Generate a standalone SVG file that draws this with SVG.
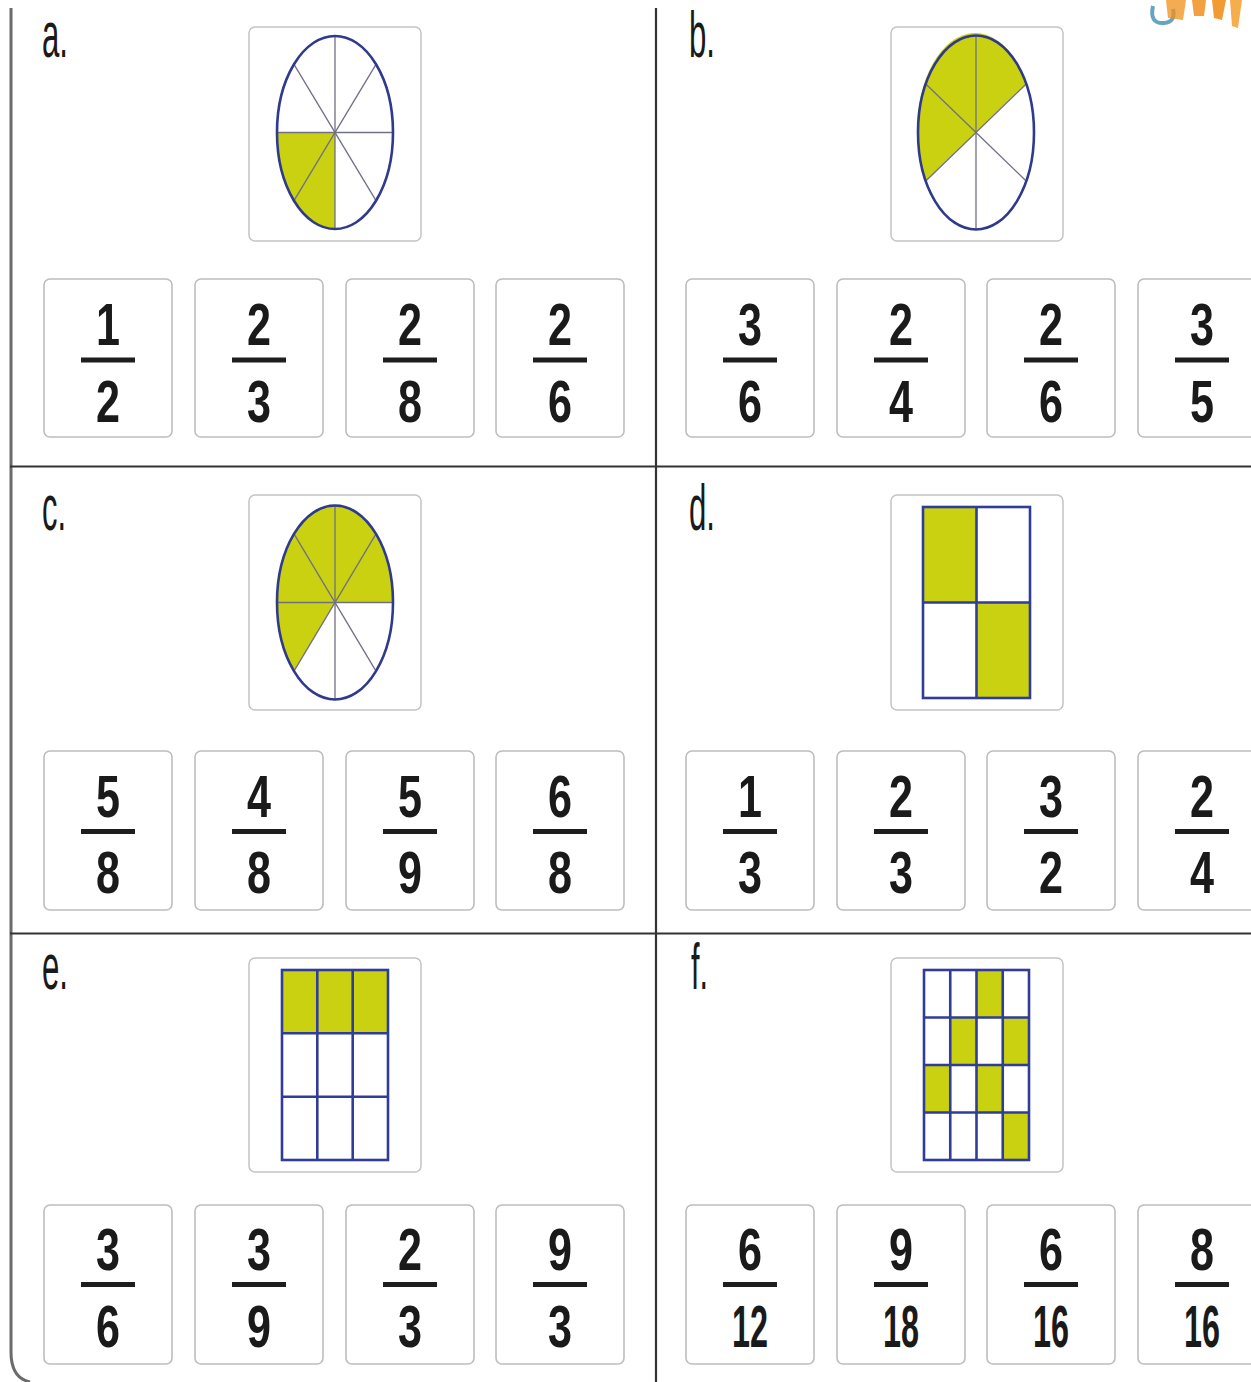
<svg xmlns="http://www.w3.org/2000/svg" width="1251" height="1382" viewBox="0 0 1251 1382">
<style>
.frame{fill:none;stroke:#333;stroke-width:2.2}
.lborder{fill:none;stroke:#6b6b6b;stroke-width:3}
.pic{fill:#fff;stroke:#c4c4c4;stroke-width:1.5}
.opt{fill:#fff;stroke:#bdbdbd;stroke-width:1.6}
.num{font-family:"Liberation Sans",Arial,sans-serif;font-weight:bold;font-size:60px;fill:#1a1a1a;text-anchor:middle}
.bar{fill:#1e1e1e}
.lbl{font-family:"Liberation Sans",Arial,sans-serif;font-size:64px;fill:#1a1a1a}
.shade{fill:#c9d111}
.ell{fill:none;stroke:#2f3a8c;stroke-width:2.6}
.spoke{stroke:#707085;stroke-width:1.3}
.grid{fill:none;stroke:#2f3d99;stroke-width:2.6}
</style>

<g id="frame">
  <path class="lborder" d="M11,8 V1352 Q11,1378 30,1382"/>
  <line class="frame" x1="656" y1="8" x2="656" y2="1382"/>
  <line class="frame" x1="10" y1="466.5" x2="1251" y2="466.5"/>
  <line class="frame" x1="10" y1="933.5" x2="1251" y2="933.5"/>
</g>

<g id="logo">
  <path d="M1153,6 Q1149,24 1164,23 Q1176,22 1173,9" fill="none" stroke="#3d8fb2" stroke-width="4" opacity="0.8"/>
  <path d="M1166,0 L1186,0 L1183,20 L1168,18 Z" fill="#f0901a" opacity="0.75"/>
  <path d="M1192,0 L1206,0 L1204,16 L1194,16 Z" fill="#f08a10" opacity="0.8"/>
  <path d="M1212,0 L1226,0 L1222,20 L1214,18 Z" fill="#f08a10" opacity="0.85"/>
  <path d="M1230,0 L1242,0 L1238,28 L1232,26 Z" fill="#f39a1e" opacity="0.8"/>
</g>

<!-- Panel a -->
<g id="panel-a">
  <text class="lbl" x="42" y="57" textLength="26" lengthAdjust="spacingAndGlyphs">a.</text>
  <g id="pic-a">
    <rect class="pic" x="249" y="27" width="172" height="214" rx="6"/>
    <path class="shade" d="M335,132.5 L277,132.5 A58 96.5 0 0 0 335,229 Z"/>
    <line class="spoke" x1="335" y1="36" x2="335" y2="229"/>
    <line class="spoke" x1="277" y1="132.5" x2="393" y2="132.5"/>
    <line class="spoke" x1="294" y1="64.3" x2="376" y2="200.7"/>
    <line class="spoke" x1="376" y1="64.3" x2="294" y2="200.7"/>
    <ellipse class="ell" cx="335" cy="132.5" rx="58" ry="96.5"/>
  </g>
  <g id="a-1" transform="translate(44,279)"><rect class="opt" width="128" height="158" rx="6"/><text class="num" x="64" y="66" textLength="24" lengthAdjust="spacingAndGlyphs">1</text><rect class="bar" x="37" y="78.5" width="54" height="5"/><text class="num" x="64" y="143" textLength="24" lengthAdjust="spacingAndGlyphs">2</text></g>
  <g id="a-2" transform="translate(195,279)"><rect class="opt" width="128" height="158" rx="6"/><text class="num" x="64" y="66" textLength="24" lengthAdjust="spacingAndGlyphs">2</text><rect class="bar" x="37" y="78.5" width="54" height="5"/><text class="num" x="64" y="143" textLength="24" lengthAdjust="spacingAndGlyphs">3</text></g>
  <g id="a-3" transform="translate(346,279)"><rect class="opt" width="128" height="158" rx="6"/><text class="num" x="64" y="66" textLength="24" lengthAdjust="spacingAndGlyphs">2</text><rect class="bar" x="37" y="78.5" width="54" height="5"/><text class="num" x="64" y="143" textLength="24" lengthAdjust="spacingAndGlyphs">8</text></g>
  <g id="a-4" transform="translate(496,279)"><rect class="opt" width="128" height="158" rx="6"/><text class="num" x="64" y="66" textLength="24" lengthAdjust="spacingAndGlyphs">2</text><rect class="bar" x="37" y="78.5" width="54" height="5"/><text class="num" x="64" y="143" textLength="24" lengthAdjust="spacingAndGlyphs">6</text></g>
</g>

<!-- Panel b -->
<g id="panel-b">
  <text class="lbl" x="689" y="57" textLength="26" lengthAdjust="spacingAndGlyphs">b.</text>
  <g id="pic-b">
    <rect class="pic" x="891" y="27" width="172" height="214" rx="6"/>
    <path class="shade" d="M1026.2,84 A58 97 0 1 0 925.8,181 Z"/>
    <line class="spoke" x1="976" y1="35.5" x2="976" y2="229.5"/>
    <line class="spoke" x1="1026.2" y1="84" x2="925.8" y2="181"/>
    <line class="spoke" x1="976" y1="132.5" x2="925.8" y2="84"/>
    <line class="spoke" x1="976" y1="132.5" x2="1026.2" y2="181"/>
    <ellipse class="ell" cx="976" cy="132.5" rx="58" ry="97"/>
  </g>
  <g id="b-1" transform="translate(686,279)"><rect class="opt" width="128" height="158" rx="6"/><text class="num" x="64" y="66" textLength="24" lengthAdjust="spacingAndGlyphs">3</text><rect class="bar" x="37" y="78.5" width="54" height="5"/><text class="num" x="64" y="143" textLength="24" lengthAdjust="spacingAndGlyphs">6</text></g>
  <g id="b-2" transform="translate(837,279)"><rect class="opt" width="128" height="158" rx="6"/><text class="num" x="64" y="66" textLength="24" lengthAdjust="spacingAndGlyphs">2</text><rect class="bar" x="37" y="78.5" width="54" height="5"/><text class="num" x="64" y="143" textLength="24" lengthAdjust="spacingAndGlyphs">4</text></g>
  <g id="b-3" transform="translate(987,279)"><rect class="opt" width="128" height="158" rx="6"/><text class="num" x="64" y="66" textLength="24" lengthAdjust="spacingAndGlyphs">2</text><rect class="bar" x="37" y="78.5" width="54" height="5"/><text class="num" x="64" y="143" textLength="24" lengthAdjust="spacingAndGlyphs">6</text></g>
  <g id="b-4" transform="translate(1138,279)"><rect class="opt" width="128" height="158" rx="6"/><text class="num" x="64" y="66" textLength="24" lengthAdjust="spacingAndGlyphs">3</text><rect class="bar" x="37" y="78.5" width="54" height="5"/><text class="num" x="64" y="143" textLength="24" lengthAdjust="spacingAndGlyphs">5</text></g>
</g>

<!-- Panel c -->
<g id="panel-c">
  <text class="lbl" x="42" y="530" textLength="24" lengthAdjust="spacingAndGlyphs">c.</text>
  <g id="pic-c">
    <rect class="pic" x="249" y="495" width="172" height="215" rx="6"/>
    <path class="shade" d="M335,602.5 L294,671.1 A58 97 0 1 1 393,602.5 Z"/>
    <line class="spoke" x1="335" y1="505.5" x2="335" y2="699.5"/>
    <line class="spoke" x1="277" y1="602.5" x2="393" y2="602.5"/>
    <line class="spoke" x1="294" y1="533.9" x2="376" y2="671.1"/>
    <line class="spoke" x1="376" y1="533.9" x2="294" y2="671.1"/>
    <ellipse class="ell" cx="335" cy="602.5" rx="58" ry="97"/>
  </g>
  <g id="c-1" transform="translate(44,751)"><rect class="opt" width="128" height="159" rx="6"/><text class="num" x="64" y="66" textLength="24" lengthAdjust="spacingAndGlyphs">5</text><rect class="bar" x="37" y="78" width="54" height="5"/><text class="num" x="64" y="142" textLength="24" lengthAdjust="spacingAndGlyphs">8</text></g>
  <g id="c-2" transform="translate(195,751)"><rect class="opt" width="128" height="159" rx="6"/><text class="num" x="64" y="66" textLength="24" lengthAdjust="spacingAndGlyphs">4</text><rect class="bar" x="37" y="78" width="54" height="5"/><text class="num" x="64" y="142" textLength="24" lengthAdjust="spacingAndGlyphs">8</text></g>
  <g id="c-3" transform="translate(346,751)"><rect class="opt" width="128" height="159" rx="6"/><text class="num" x="64" y="66" textLength="24" lengthAdjust="spacingAndGlyphs">5</text><rect class="bar" x="37" y="78" width="54" height="5"/><text class="num" x="64" y="142" textLength="24" lengthAdjust="spacingAndGlyphs">9</text></g>
  <g id="c-4" transform="translate(496,751)"><rect class="opt" width="128" height="159" rx="6"/><text class="num" x="64" y="66" textLength="24" lengthAdjust="spacingAndGlyphs">6</text><rect class="bar" x="37" y="78" width="54" height="5"/><text class="num" x="64" y="142" textLength="24" lengthAdjust="spacingAndGlyphs">8</text></g>
</g>

<!-- Panel d -->
<g id="panel-d">
  <text class="lbl" x="689" y="530" textLength="26" lengthAdjust="spacingAndGlyphs">d.</text>
  <g id="pic-d">
    <rect class="pic" x="891" y="495" width="172" height="215" rx="6"/>
    <rect class="shade" x="923" y="507" width="53.5" height="95.5"/>
    <rect class="shade" x="976.5" y="602.5" width="53.5" height="95.5"/>
    <rect class="grid" x="923" y="507" width="107" height="191"/>
    <line class="grid" x1="976.5" y1="507" x2="976.5" y2="698"/>
    <line class="grid" x1="923" y1="602.5" x2="1030" y2="602.5"/>
  </g>
  <g id="d-1" transform="translate(686,751)"><rect class="opt" width="128" height="159" rx="6"/><text class="num" x="64" y="66" textLength="24" lengthAdjust="spacingAndGlyphs">1</text><rect class="bar" x="37" y="78" width="54" height="5"/><text class="num" x="64" y="142" textLength="24" lengthAdjust="spacingAndGlyphs">3</text></g>
  <g id="d-2" transform="translate(837,751)"><rect class="opt" width="128" height="159" rx="6"/><text class="num" x="64" y="66" textLength="24" lengthAdjust="spacingAndGlyphs">2</text><rect class="bar" x="37" y="78" width="54" height="5"/><text class="num" x="64" y="142" textLength="24" lengthAdjust="spacingAndGlyphs">3</text></g>
  <g id="d-3" transform="translate(987,751)"><rect class="opt" width="128" height="159" rx="6"/><text class="num" x="64" y="66" textLength="24" lengthAdjust="spacingAndGlyphs">3</text><rect class="bar" x="37" y="78" width="54" height="5"/><text class="num" x="64" y="142" textLength="24" lengthAdjust="spacingAndGlyphs">2</text></g>
  <g id="d-4" transform="translate(1138,751)"><rect class="opt" width="128" height="159" rx="6"/><text class="num" x="64" y="66" textLength="24" lengthAdjust="spacingAndGlyphs">2</text><rect class="bar" x="37" y="78" width="54" height="5"/><text class="num" x="64" y="142" textLength="24" lengthAdjust="spacingAndGlyphs">4</text></g>
</g>

<!-- Panel e -->
<g id="panel-e">
  <text class="lbl" x="42" y="989" textLength="26" lengthAdjust="spacingAndGlyphs">e.</text>
  <g id="pic-e">
    <rect class="pic" x="249" y="958" width="172" height="214" rx="6"/>
    <rect class="shade" x="282" y="970" width="106" height="63.3"/>
    <rect class="grid" x="282" y="970" width="106" height="190"/>
    <line class="grid" x1="317.3" y1="970" x2="317.3" y2="1160"/>
    <line class="grid" x1="352.7" y1="970" x2="352.7" y2="1160"/>
    <line class="grid" x1="282" y1="1033.3" x2="388" y2="1033.3"/>
    <line class="grid" x1="282" y1="1096.7" x2="388" y2="1096.7"/>
  </g>
  <g id="e-1" transform="translate(44,1205)"><rect class="opt" width="128" height="159" rx="6"/><text class="num" x="64" y="65" textLength="24" lengthAdjust="spacingAndGlyphs">3</text><rect class="bar" x="37" y="77" width="54" height="5"/><text class="num" x="64" y="142" textLength="24" lengthAdjust="spacingAndGlyphs">6</text></g>
  <g id="e-2" transform="translate(195,1205)"><rect class="opt" width="128" height="159" rx="6"/><text class="num" x="64" y="65" textLength="24" lengthAdjust="spacingAndGlyphs">3</text><rect class="bar" x="37" y="77" width="54" height="5"/><text class="num" x="64" y="142" textLength="24" lengthAdjust="spacingAndGlyphs">9</text></g>
  <g id="e-3" transform="translate(346,1205)"><rect class="opt" width="128" height="159" rx="6"/><text class="num" x="64" y="65" textLength="24" lengthAdjust="spacingAndGlyphs">2</text><rect class="bar" x="37" y="77" width="54" height="5"/><text class="num" x="64" y="142" textLength="24" lengthAdjust="spacingAndGlyphs">3</text></g>
  <g id="e-4" transform="translate(496,1205)"><rect class="opt" width="128" height="159" rx="6"/><text class="num" x="64" y="65" textLength="24" lengthAdjust="spacingAndGlyphs">9</text><rect class="bar" x="37" y="77" width="54" height="5"/><text class="num" x="64" y="142" textLength="24" lengthAdjust="spacingAndGlyphs">3</text></g>
</g>

<!-- Panel f -->
<g id="panel-f">
  <text class="lbl" x="691" y="989" textLength="17" lengthAdjust="spacingAndGlyphs">f.</text>
  <g id="pic-f">
    <rect class="pic" x="891" y="958" width="172" height="214" rx="6"/>
    <rect class="shade" x="976.5" y="970" width="26.25" height="47.5"/>
    <rect class="shade" x="950.25" y="1017.5" width="26.25" height="47.5"/>
    <rect class="shade" x="1002.75" y="1017.5" width="26.25" height="47.5"/>
    <rect class="shade" x="924" y="1065" width="26.25" height="47.5"/>
    <rect class="shade" x="976.5" y="1065" width="26.25" height="47.5"/>
    <rect class="shade" x="1002.75" y="1112.5" width="26.25" height="47.5"/>
    <rect class="grid" x="924" y="970" width="105" height="190"/>
    <line class="grid" x1="950.25" y1="970" x2="950.25" y2="1160"/>
    <line class="grid" x1="976.5" y1="970" x2="976.5" y2="1160"/>
    <line class="grid" x1="1002.75" y1="970" x2="1002.75" y2="1160"/>
    <line class="grid" x1="924" y1="1017.5" x2="1029" y2="1017.5"/>
    <line class="grid" x1="924" y1="1065" x2="1029" y2="1065"/>
    <line class="grid" x1="924" y1="1112.5" x2="1029" y2="1112.5"/>
  </g>
  <g id="f-1" transform="translate(686,1205)"><rect class="opt" width="128" height="159" rx="6"/><text class="num" x="64" y="65" textLength="24" lengthAdjust="spacingAndGlyphs">6</text><rect class="bar" x="37" y="77" width="54" height="5"/><text class="num" x="64" y="142" textLength="36" lengthAdjust="spacingAndGlyphs">12</text></g>
  <g id="f-2" transform="translate(837,1205)"><rect class="opt" width="128" height="159" rx="6"/><text class="num" x="64" y="65" textLength="24" lengthAdjust="spacingAndGlyphs">9</text><rect class="bar" x="37" y="77" width="54" height="5"/><text class="num" x="64" y="142" textLength="36" lengthAdjust="spacingAndGlyphs">18</text></g>
  <g id="f-3" transform="translate(987,1205)"><rect class="opt" width="128" height="159" rx="6"/><text class="num" x="64" y="65" textLength="24" lengthAdjust="spacingAndGlyphs">6</text><rect class="bar" x="37" y="77" width="54" height="5"/><text class="num" x="64" y="142" textLength="36" lengthAdjust="spacingAndGlyphs">16</text></g>
  <g id="f-4" transform="translate(1138,1205)"><rect class="opt" width="128" height="159" rx="6"/><text class="num" x="64" y="65" textLength="24" lengthAdjust="spacingAndGlyphs">8</text><rect class="bar" x="37" y="77" width="54" height="5"/><text class="num" x="64" y="142" textLength="36" lengthAdjust="spacingAndGlyphs">16</text></g>
</g>
</svg>
